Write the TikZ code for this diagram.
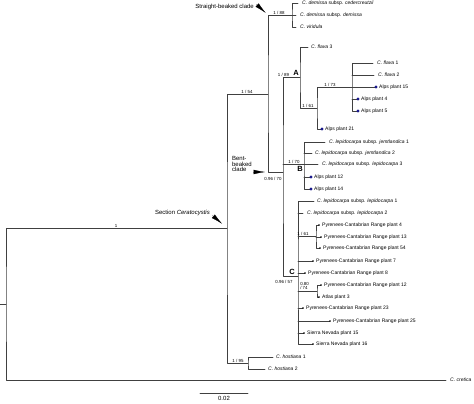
\documentclass[tikz,border=0pt]{standalone}
\usepackage{fontspec}
\setmainfont{Liberation Sans}
\usetikzlibrary{arrows.meta}
\definecolor{dotblue}{RGB}{25,25,140}
\newcommand{\carex}[1]{\textit{C.~#1}}
\tikzset{
  branch/.style={draw=black!75, line width=0.55pt},
  leaf/.style={anchor=west, inner sep=0pt, font=\fontsize{5}{5.5}\selectfont},
  supp/.style={inner sep=0.6pt, font=\fontsize{4.4}{5}\selectfont},
  cladelab/.style={inner sep=0pt, font=\fontsize{6}{7}\selectfont},
  cladeletter/.style={inner sep=0pt, font=\fontsize{7.5}{8}\selectfont\bfseries},
  pointer/.style={-{Latex[length=11.5pt,width=4.5pt]}, line width=0.2pt},
}
\begin{document}
\begin{tikzpicture}[x=1pt, y=-1pt, line join=round, line cap=round]
\useasboundingbox (0,0) rectangle (474,404);
% internal nodes
\coordinate (base) at (0,304);
\coordinate (root) at (6,304);
\coordinate (cer) at (227,228);
\coordinate (ing) at (268,94);
\coordinate (sbk) at (292,15);
\coordinate (bbk) at (283,172);
\coordinate (cA) at (300,77);
\coordinate (a61) at (317,108);
\coordinate (a73) at (352,87);
\coordinate (cB) at (304,164);
\coordinate (cC) at (298,276);
\coordinate (c61) at (316,236);
\coordinate (c80) at (317,291);
\coordinate (host) at (248,363);
% leaf tips
\coordinate (dem1) at (298,3);
\coordinate (dem2) at (296,15);
\coordinate (veld) at (296,27);
\coordinate (fl3) at (308,47);
\coordinate (fl1) at (373,63);
\coordinate (fl2) at (374,75);
\coordinate (alps15) at (376,87);
\coordinate (alps4) at (358,99);
\coordinate (alps5) at (358,111);
\coordinate (alps21) at (322,129);
\coordinate (jem1) at (325,142);
\coordinate (jem2) at (312,153);
\coordinate (lep3) at (318,164);
\coordinate (alps12) at (311,177);
\coordinate (alps14) at (311,189);
\coordinate (lep1) at (314,201);
\coordinate (lep2) at (303,213);
\coordinate (pyr4) at (319,225);
\coordinate (pyr13) at (321,237);
\coordinate (pyr54) at (320,248);
\coordinate (pyr7) at (313,261);
\coordinate (pyr8) at (305,273);
\coordinate (pyr12) at (321,285);
\coordinate (atlas3) at (319,297);
\coordinate (pyr23) at (303,308);
\coordinate (pyr25) at (330,321);
\coordinate (sn15) at (304,333);
\coordinate (sn16) at (313,344);
\coordinate (host1) at (273,357);
\coordinate (host2) at (265,369);
\coordinate (cret) at (446,380);

% branches
\draw[branch] (base) -- (root);
\draw[branch] (cer) -| (root) |- (cret);
\draw[branch] (ing) -| (cer) |- (host);
\draw[branch] (sbk) -| (ing) |- (bbk);
\draw[branch] (dem1) -| (sbk) |- (veld);
\draw[branch] (sbk) -- (dem2);
\draw[branch] (cA) -| (bbk) |- (cC);
\draw[branch] (bbk |- cB) -- (cB);
\draw[branch] (fl3) -| (cA) |- (a61);
\draw[branch] (a73) -| (a61) |- (alps21);
\draw[branch] (fl1) -| (a73) |- (alps5);
\draw[branch] (a73 |- fl2) -- (fl2);
\draw[branch] (a73) -- (alps15);
\draw[branch] (a73 |- alps4) -- (alps4);
\draw[branch] (jem1) -| (cB) |- (alps14);
\draw[branch] (cB |- jem2) -- (jem2);
\draw[branch] (cB |- lep3) -- (lep3);
\draw[branch] (cB |- alps12) -- (alps12);
\draw[branch] (lep1) -| (cC) |- (sn16);
\draw[branch] (cC |- lep2) -- (lep2);
\draw[branch] (cC |- c61) -- (c61);
\draw[branch] (cC |- pyr7) -- (pyr7);
\draw[branch] (cC |- pyr8) -- (pyr8);
\draw[branch] (cC |- c80) -- (c80);
\draw[branch] (cC |- pyr23) -- (pyr23);
\draw[branch] (cC |- pyr25) -- (pyr25);
\draw[branch] (cC |- sn15) -- (sn15);
\draw[branch] (pyr4) -| (c61) |- (pyr54);
\draw[branch] (c61 |- pyr13) -- (pyr13);
\draw[branch] (pyr12) -| (c80) |- (atlas3);
\draw[branch] (host1) -| (host) |- (host2);

% leaf marks
\foreach \t in {alps15,alps4,alps5,alps21,alps12,alps14}
  \fill[dotblue] (\t) circle (1.7pt);
\foreach \t in {pyr4,pyr13,pyr54,pyr7,pyr8,pyr12,atlas3,pyr23,pyr25,sn15,sn16}
  \fill (\t) circle (0.9pt);

% leaf labels
\node[leaf, xshift=4pt] (tdem1) at (dem1) {\carex{demissa} subsp. \textit{cedercreutzii}};
\node[leaf, xshift=4pt] (tdem2) at (dem2) {\carex{demissa} subsp. \textit{demissa}};
\node[leaf, xshift=4pt] (tveld) at (veld) {\carex{viridula}};
\node[leaf, xshift=3pt] (tfl3) at (fl3) {\carex{flava} 3};
\node[leaf, xshift=4pt] (tfl1) at (fl1) {\carex{flava} 1};
\node[leaf, xshift=4pt] (tfl2) at (fl2) {\carex{flava} 2};
\node[leaf, xshift=3pt] (talps15) at (alps15) {Alps plant 15};
\node[leaf, xshift=3pt] (talps4) at (alps4) {Alps plant 4};
\node[leaf, xshift=3pt] (talps5) at (alps5) {Alps plant 5};
\node[leaf, xshift=3pt] (talps21) at (alps21) {Alps plant 21};
\node[leaf, xshift=4pt] (tjem1) at (jem1) {\carex{lepidocarpa} subsp. \textit{jemtlandica} 1};
\node[leaf, xshift=3pt] (tjem2) at (jem2) {\carex{lepidocarpa} subsp. \textit{jemtlandica} 2};
\node[leaf, xshift=4pt] (tlep3) at (lep3) {\carex{lepidocarpa} subsp. \textit{lepidocarpa} 3};
\node[leaf, xshift=3pt] (talps12) at (alps12) {Alps plant 12};
\node[leaf, xshift=3pt] (talps14) at (alps14) {Alps plant 14};
\node[leaf, xshift=3pt] (tlep1) at (lep1) {\carex{lepidocarpa} subsp. \textit{lepidocarpa} 1};
\node[leaf, xshift=4pt] (tlep2) at (lep2) {\carex{lepidocarpa} subsp. \textit{lepidocarpa} 2};
\node[leaf, xshift=3pt] (tpyr4) at (pyr4) {Pyrenees-Cantabrian Range plant 4};
\node[leaf, xshift=3pt] (tpyr13) at (pyr13) {Pyrenees-Cantabrian Range plant 13};
\node[leaf, xshift=3pt] (tpyr54) at (pyr54) {Pyrenees-Cantabrian Range plant 54};
\node[leaf, xshift=3pt] (tpyr7) at (pyr7) {Pyrenees-Cantabrian Range plant 7};
\node[leaf, xshift=3pt] (tpyr8) at (pyr8) {Pyrenees-Cantabrian Range plant 8};
\node[leaf, xshift=3pt] (tpyr12) at (pyr12) {Pyrenees-Cantabrian Range plant 12};
\node[leaf, xshift=3pt] (tatlas3) at (atlas3) {Atlas plant 3};
\node[leaf, xshift=3pt] (tpyr23) at (pyr23) {Pyrenees-Cantabrian Range plant 23};
\node[leaf, xshift=3pt] (tpyr25) at (pyr25) {Pyrenees-Cantabrian Range plant 25};
\node[leaf, xshift=3pt] (tsn15) at (sn15) {Sierra Nevada plant 15};
\node[leaf, xshift=3pt] (tsn16) at (sn16) {Sierra Nevada plant 16};
\node[leaf, xshift=3pt] (thost1) at (host1) {\carex{hostiana} 1};
\node[leaf, xshift=3pt] (thost2) at (host2) {\carex{hostiana} 2};
\node[leaf, xshift=4pt] (tcret) at (cret) {\carex{cretica}};

% support values
\node[supp, above] (s1) at (116,228) {1};
\node[supp, above] (s54) at (247,94) {1 / 54};
\node[supp, above] (s88) at (279,15) {1 / 88};
\node[supp, above] (s89) at (283.5,77) {1 / 89};
\node[supp, above] (s73) at (330,87) {1 / 73};
\node[supp, above] (s61a) at (308,108) {1 / 61};
\node[supp, above] (s70) at (294,164) {1 / 70};
\node[supp, anchor=north] (s9670) at (273,177) {0.96 / 70};
\node[supp, anchor=north] (s9657) at (284,279.5) {0.96 / 57};
\node[supp, above] (s61c) at (303,236) {1 / 61};
\node[supp, anchor=south west, align=left] (s8074) at (299.5,290.5) {0.80\\[-1pt]/ 74};
\node[supp, above] (s95) at (238,363) {1 / 95};

% clade letters
\node[cladeletter, anchor=south] (lA) at (296,75.5) {A};
\node[cladeletter, anchor=north] (lB) at (300,166) {B};
\node[cladeletter, anchor=south] (lC) at (292,275) {C};

% clade names and pointers
\node[cladelab, anchor=east] (lsbk) at (254,7) {Straight-beaked clade};
\node[cladelab, anchor=east, align=left] (lbbk) at (252,164) {Bent-\\[-1.5pt]beaked\\[-1.5pt]clade};
\node[cladelab, anchor=east] (lcer) at (210,213) {Section \textit{Ceratocystis}};
\coordinate (psbk) at (256.5,4.5);
\coordinate (pbbk) at (253.5,172);
\coordinate (pcer) at (212.5,215.5);
\draw[pointer, shorten >=3.2pt] (psbk) -- (ing |- sbk);
\draw[pointer, shorten >=3pt] (pbbk) -- (ing |- bbk);
\draw[pointer, shorten >=6.5pt] (pcer) -- (cer);

% scale bar
\coordinate (sb1) at (200,393);
\coordinate (sb2) at (248,393);
\draw[branch] (sb1) -- node[cladelab, below=3pt] (lsb) {0.02} (sb2);
\end{tikzpicture}
\end{document}
